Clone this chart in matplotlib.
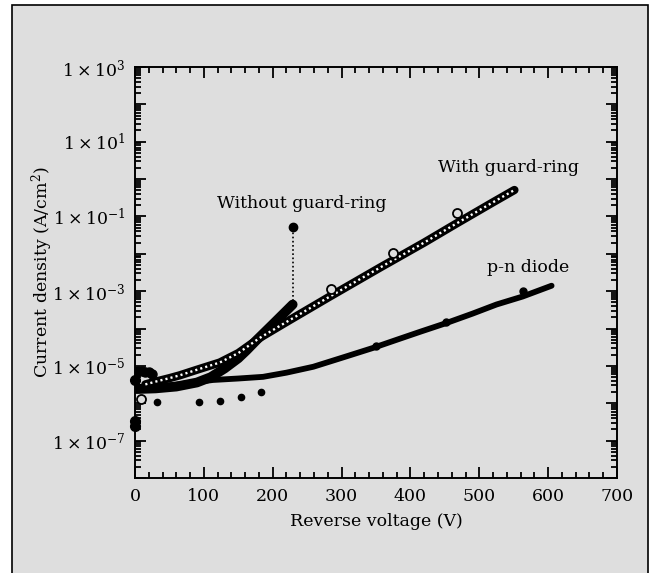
import matplotlib
matplotlib.use("Agg")
import matplotlib.pyplot as plt
from matplotlib.patches import Rectangle
from matplotlib.ticker import FixedLocator, LogLocator, MultipleLocator, NullFormatter

plt.rcParams['font.family'] = ['DejaVu Serif']
plt.rcParams['mathtext.fontset'] = 'dejavuserif'

# ---- data ----
# With guard-ring (chain of open circles)
wg_v = [15, 30, 50, 65, 90, 123, 150, 181, 220, 283, 356, 420, 467, 520, 551]
wg_j = [3.2e-6, 3.8e-6, 4.7e-6, 5.6e-6, 7.9e-6, 1.23e-5, 2.2e-5, 5.6e-5, 1.5e-4,
        7.2e-4, 4.3e-3, 2.0e-2, 6.5e-2, 0.24, 0.51]
# sparse large open circles
wg_big_v = [8, 284, 375, 467]
wg_big_j = [1.3e-6, 1.15e-3, 1.07e-2, 0.123]

# Without guard-ring (dense filled dots)
wo_v = [2, 30, 60, 90, 110, 130, 150, 162, 177, 200, 229]
wo_j = [2.4e-6, 2.5e-6, 2.8e-6, 3.6e-6, 5.0e-6, 8.5e-6, 1.6e-5, 2.6e-5, 5.0e-5, 1.3e-4, 4.4e-4]
breakdown_v = 229
breakdown_j = 0.052
early_v = [0, 5, 10, 15, 20, 25]
early_j = [6.5e-6, 7.5e-6, 7.2e-6, 7.0e-6, 6.8e-6, 6.2e-6]
edge_v = [0, 0, 0]
edge_j = [4.3e-6, 3.3e-7, 2.4e-7]
sparse_v = [32, 93, 123, 154, 183]
sparse_j = [1.05e-6, 1.1e-6, 1.17e-6, 1.5e-6, 2.0e-6]

# p-n diode
pn_v = [5, 20, 50, 80, 113, 150, 186, 220, 259, 307, 345, 380, 415, 452, 490, 525, 563, 605]
pn_j = [2.2e-6, 2.5e-6, 3.0e-6, 3.5e-6, 4.2e-6, 4.6e-6, 5.1e-6, 6.6e-6, 9.5e-6, 1.8e-5,
        3.0e-5, 5.0e-5, 8.3e-5, 1.4e-4, 2.5e-4, 4.4e-4, 7.2e-4, 1.4e-3]
pn_dot_v = [350, 452, 563]
pn_dot_j = [3.4e-5, 1.5e-4, 1.02e-3]

ytick_exps = [3, 1, -1, -3, -5, -7]
ytick_labels = [r'$1\times10^{%d}$' % e for e in ytick_exps]
xticks = [0, 100, 200, 300, 400, 500, 600, 700]

bg = '#dedede'
fig = plt.figure(figsize=(6.54, 5.73), dpi=100, facecolor='white')
fig.patches.append(Rectangle((12/654, -0.05), (648-12)/654, 1.05 - 5/573,
                             transform=fig.transFigure, facecolor=bg,
                             edgecolor='black', linewidth=1.2, zorder=-10))
ax = fig.add_axes([135/654, 1-478/573, (617-135)/654, (478-67)/573])
ax.set_facecolor(bg)
ax.set_yscale('log')
ax.set_xlim(0, 700)
ax.set_ylim(1e-8, 1e3)

# curves
ax.plot(wo_v, wo_j, color='black', lw=7, solid_capstyle='round', solid_joinstyle='round', zorder=3)
ax.plot(pn_v, pn_j, color='black', lw=4.2, solid_capstyle='round', solid_joinstyle='round', zorder=3)
ax.plot(pn_dot_v, pn_dot_j, 'o', color='black', ms=5, zorder=3)
ax.plot(wg_v, wg_j, color='black', lw=6, solid_capstyle='round', solid_joinstyle='round', zorder=4)
ax.plot(wg_v, wg_j, color='white', lw=1.7, linestyle=(0, (0.9, 1.3)), zorder=5)
ax.plot(wg_big_v, wg_big_j, 'o', mfc=bg, mec='black', mew=1.3, ms=6.5, zorder=6)
ax.plot([breakdown_v, breakdown_v], [wo_j[-1], breakdown_j], color='black', lw=1.2,
        linestyle=(0, (1, 1.5)), zorder=3)
ax.plot([breakdown_v], [breakdown_j], 'o', color='black', ms=6, zorder=4)
ax.plot(early_v, early_j, 'o', color='black', ms=6.5, zorder=4)
ax.plot(edge_v, edge_j, 'o', color='black', ms=7, zorder=4, clip_on=False)
ax.plot(sparse_v, sparse_j, 'o', color='black', ms=4.5, zorder=4)

# annotations
ax.text(242, 0.22, 'Without guard-ring', ha='center', va='center', fontsize=12.5)
ax.text(543, 2.0, 'With guard-ring', ha='center', va='center', fontsize=12.5)
ax.text(571, 4.3e-3, 'p-n diode', ha='center', va='center', fontsize=12.5)

# axes styling
ax.xaxis.set_major_locator(FixedLocator(xticks))
ax.xaxis.set_minor_locator(MultipleLocator(20))
ax.set_xticklabels([str(t) for t in xticks])
ax.yaxis.set_major_locator(FixedLocator([10.0**e for e in range(-8, 4)]))
ax.yaxis.set_minor_locator(LogLocator(base=10, subs=range(2, 10), numticks=20))
ax.yaxis.set_minor_formatter(NullFormatter())
ax.set_yticklabels([ytick_labels[ytick_exps.index(e)] if e in ytick_exps else ''
                    for e in range(-8, 4)])
ax.tick_params(which='both', direction='in', top=True, right=True, width=1.3, labelsize=12.5)
ax.tick_params(which='major', length=8, pad=7)
ax.tick_params(which='minor', length=4)
for s in ax.spines.values():
    s.set_linewidth(1.4)

ax.set_xlabel('Reverse voltage (V)', fontsize=12.5)
ax.set_ylabel(r'Current density (A/cm$^{2}$)', fontsize=12.5)
ax.xaxis.set_label_coords(0.5, -0.107)
ax.xaxis.label.set_va('center')
ax.yaxis.set_label_coords(-0.193, 0.5)
ax.yaxis.label.set_va('center')

fig.savefig('out.png', dpi=100, facecolor=fig.get_facecolor())
